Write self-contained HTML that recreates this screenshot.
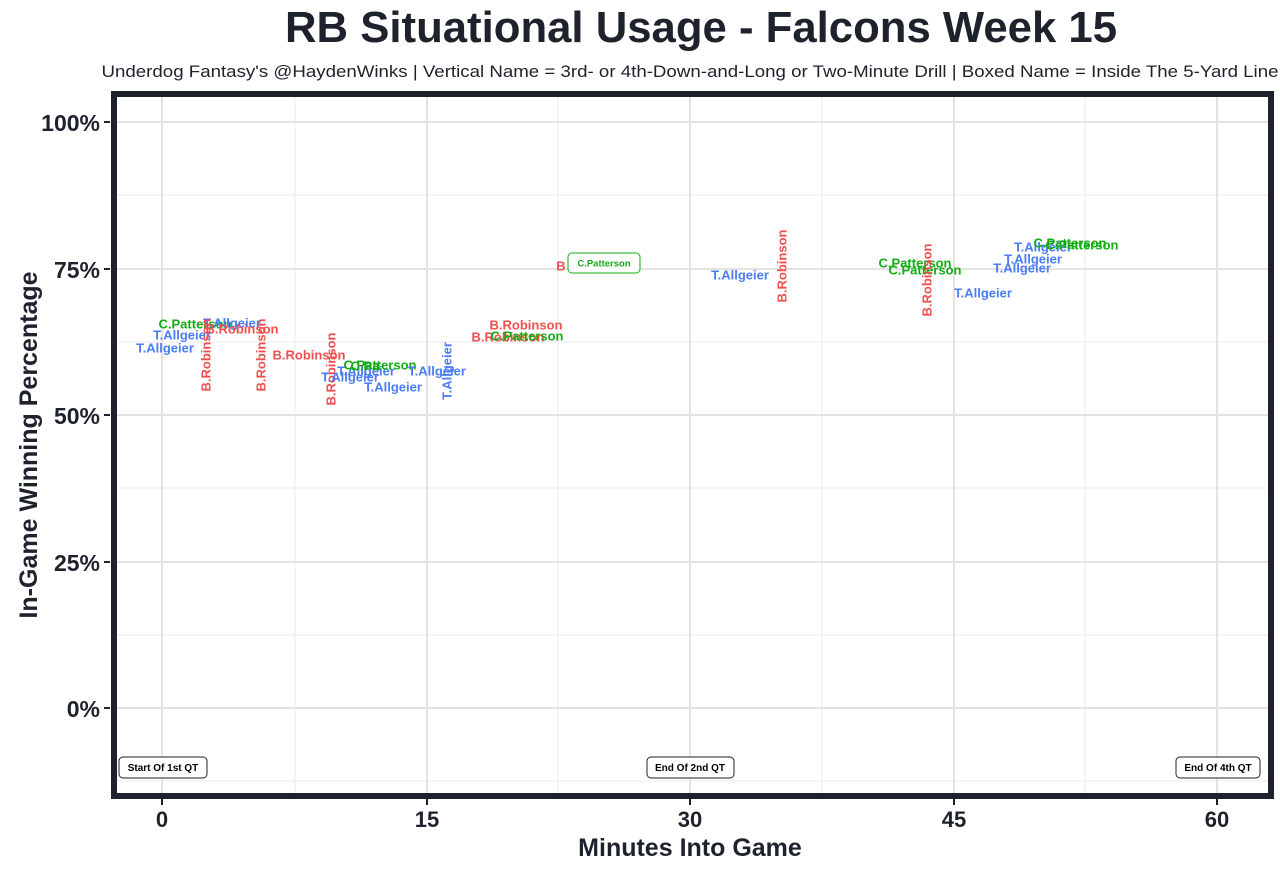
<!DOCTYPE html>
<html><head><meta charset="utf-8"><style>
body{margin:0;background:#fff;}
svg{display:block;font-family:"Liberation Sans",Arial,sans-serif;}
.b{fill:#4a7cf7;font-weight:bold;font-size:13px}
.r{fill:#ef4f4f;font-weight:bold;font-size:13px}
.g{fill:#13ac13;font-weight:bold;font-size:13px}
</style></head><body>
<svg width="1280" height="871" viewBox="0 0 1280 871">
<text x="701" y="42" text-anchor="middle" font-size="44" font-weight="bold" fill="#1e222d" textLength="832" lengthAdjust="spacingAndGlyphs">RB Situational Usage - Falcons Week 15</text>
<text x="690" y="77" text-anchor="middle" font-size="17" fill="#1e222d" textLength="1177" lengthAdjust="spacingAndGlyphs">Underdog Fantasy's @HaydenWinks | Vertical Name = 3rd- or 4th-Down-and-Long or Two-Minute Drill | Boxed Name = Inside The 5-Yard Line</text>
<g stroke="#ebebeb" stroke-width="1">
<line x1="114" x2="1271" y1="195" y2="195"/><line x1="114" x2="1271" y1="342" y2="342"/><line x1="114" x2="1271" y1="488" y2="488"/><line x1="114" x2="1271" y1="635" y2="635"/><line x1="114" x2="1271" y1="781" y2="781"/>
<line x1="295" x2="295" y1="94" y2="796"/><line x1="558" x2="558" y1="94" y2="796"/><line x1="822" x2="822" y1="94" y2="796"/><line x1="1085" x2="1085" y1="94" y2="796"/>
</g>
<g stroke="#e3e3e3" stroke-width="2">
<line x1="114" x2="1271" y1="122" y2="122"/><line x1="114" x2="1271" y1="269" y2="269"/><line x1="114" x2="1271" y1="415" y2="415"/><line x1="114" x2="1271" y1="562" y2="562"/><line x1="114" x2="1271" y1="708" y2="708"/>
<line x1="162" x2="162" y1="94" y2="796"/><line x1="427" x2="427" y1="94" y2="796"/><line x1="690" x2="690" y1="94" y2="796"/><line x1="954" x2="954" y1="94" y2="796"/><line x1="1217" x2="1217" y1="94" y2="796"/>
</g>
<g dominant-baseline="central" text-anchor="middle">
<text class="g" x="195" y="324">C.Patterson</text>
<text class="b" x="232" y="323">T.Allgeier</text>
<text class="r" x="242" y="329">B.Robinson</text>
<text class="b" x="182" y="335">T.Allgeier</text>
<text class="b" x="165" y="348">T.Allgeier</text>
<text class="r" transform="translate(206,355) rotate(-90)">B.Robinson</text>
<text class="r" transform="translate(261,355) rotate(-90)">B.Robinson</text>
<text class="r" x="309" y="355">B.Robinson</text>
<text class="r" transform="translate(331,369) rotate(-90)">B.Robinson</text>
<text class="b" x="366" y="371">T.Allgeier</text>
<text class="b" x="350" y="377">T.Allgeier</text>
<text class="g" x="365" y="366">C.Pa</text>
<text class="g" x="380" y="365">C.Patterson</text>
<text class="b" x="393" y="387">T.Allgeier</text>
<text class="b" x="437" y="371">T.Allgeier</text>
<text class="b" transform="translate(447,371) rotate(-90)">T.Allgeier</text>
<text class="r" x="526" y="325">B.Robinson</text>
<text class="r" x="508" y="337">B.Robinson</text>
<text class="g" x="527" y="336">C.Patterson</text>
<text class="r" x="561" y="266">B</text>
<rect x="568" y="253" width="72" height="20" rx="4" fill="#fff" stroke="#13ac13"/>
<text class="g" x="604" y="264" style="font-size:9.5px">C.Patterson</text>
<text class="b" x="740" y="275">T.Allgeier</text>
<text class="r" transform="translate(782,266) rotate(-90)">B.Robinson</text>
<text class="g" x="915" y="263">C.Patterson</text>
<text class="g" x="925" y="270">C.Patterson</text>
<text class="r" transform="translate(927,280) rotate(-90)">B.Robinson</text>
<text class="b" x="983" y="293">T.Allgeier</text>
<text class="b" x="1022" y="268">T.Allgeier</text>
<text class="b" x="1033" y="259">T.Allgeier</text>
<text class="b" x="1043" y="247">T.Allgeier</text>
<text class="g" x="1070" y="243">C.Patterson</text>
<text class="g" x="1082" y="245">C.Patterson</text>
</g>
<g font-size="10" font-weight="bold" fill="#000" text-anchor="middle">
<rect x="119" y="757" width="88" height="21" rx="4" fill="#fff" stroke="#222"/><text x="163" y="771">Start Of 1st QT</text>
<rect x="647" y="757" width="87" height="21" rx="4" fill="#fff" stroke="#222"/><text x="690" y="771">End Of 2nd QT</text>
<rect x="1176" y="757" width="84" height="21" rx="4" fill="#fff" stroke="#222"/><text x="1218" y="771">End Of 4th QT</text>
</g>
<rect x="114" y="94" width="1157" height="702" fill="none" stroke="#1e222d" stroke-width="6"/>
<g stroke="#1e222d" stroke-width="2">
<line x1="162" x2="162" y1="799" y2="805"/><line x1="427" x2="427" y1="799" y2="805"/><line x1="690" x2="690" y1="799" y2="805"/><line x1="954" x2="954" y1="799" y2="805"/><line x1="1217" x2="1217" y1="799" y2="805"/>
<line x1="104" x2="110" y1="122" y2="122"/><line x1="104" x2="110" y1="269" y2="269"/><line x1="104" x2="110" y1="415" y2="415"/><line x1="104" x2="110" y1="562" y2="562"/><line x1="104" x2="110" y1="708" y2="708"/>
</g>
<g font-size="22" font-weight="bold" fill="#1e222d" text-anchor="middle">
<text x="162" y="827">0</text><text x="427" y="827">15</text><text x="690" y="827">30</text><text x="954" y="827">45</text><text x="1217" y="827">60</text>
</g>
<g font-size="23" font-weight="bold" fill="#1e222d" text-anchor="end" dominant-baseline="central">
<text x="100" y="123">100%</text><text x="100" y="270">75%</text><text x="100" y="416">50%</text><text x="100" y="563">25%</text><text x="100" y="709">0%</text>
</g>
<text x="690" y="856" text-anchor="middle" font-size="25" font-weight="bold" fill="#1e222d">Minutes Into Game</text>
<text transform="translate(29,445) rotate(-90)" text-anchor="middle" dominant-baseline="central" font-size="25" font-weight="bold" fill="#1e222d">In-Game Winning Percentage</text>
</svg>
</body></html>
